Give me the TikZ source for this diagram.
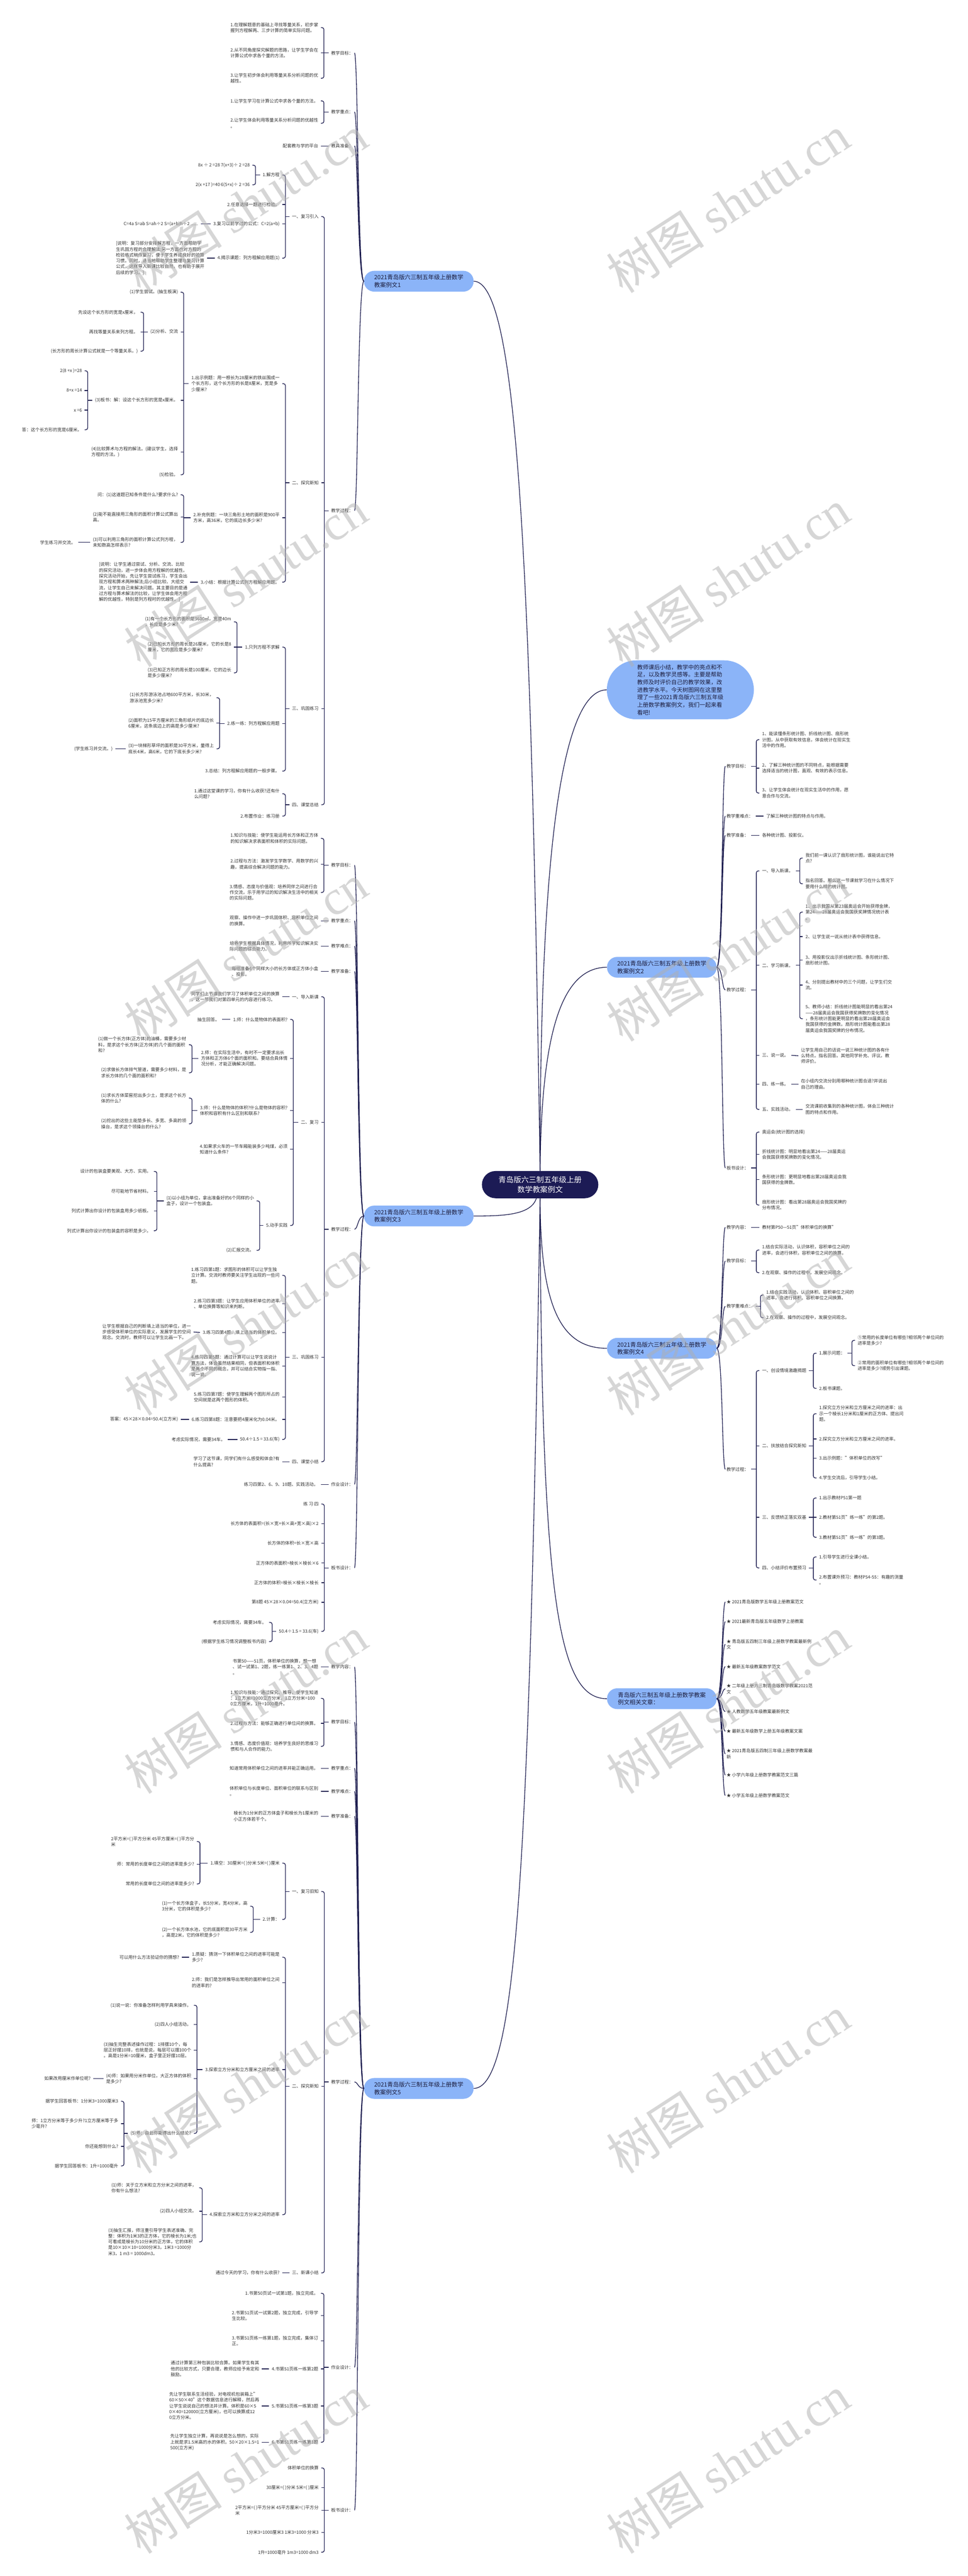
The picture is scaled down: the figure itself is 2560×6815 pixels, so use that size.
\documentclass[tikz,border=0pt]{standalone}
\usepackage{fontspec}
\setmainfont{Noto Sans CJK SC}
\newfontfamily\wmlat{Liberation Serif}
\usetikzlibrary{calc}
\definecolor{linec}{RGB}{30,30,80}
\definecolor{txtc}{RGB}{50,50,50}
\definecolor{brc}{RGB}{139,180,248}
\definecolor{brt}{RGB}{28,28,60}
\definecolor{cenc}{RGB}{28,27,85}
\definecolor{wmc}{RGB}{175,175,175}
\tikzset{
  tx/.style={font=\fontsize{11.7}{15.4}\selectfont, text=txtc, inner sep=0pt, align=left},
  L/.style={tx, anchor=east},
  R/.style={tx, anchor=west},
  conn/.style={draw=linec, line width=1.8pt},
  br/.style={fill=brc, text=brt, rounded corners=27pt, minimum width=290pt, minimum height=55pt, inner sep=0pt, align=left, font=\fontsize{15.5}{20}\selectfont},
  intro/.style={fill=brc, text=brt, rounded corners=78pt, minimum width=389pt, minimum height=156pt, inner sep=0pt, align=left, font=\fontsize{15}{20}\selectfont},
  cen/.style={fill=cenc, text=white, rounded corners=36pt, minimum width=308pt, minimum height=72pt, inner sep=0pt, align=center, font=\fontsize{20}{27}\selectfont},
  wm/.style={text=wmc, text opacity=0.5, rotate=33, inner sep=0pt, font=\fontsize{130}{130}\selectfont},
}
% left bracket: parent, first child, last child
\newcommand\lbk[3]{%
  \draw[conn, rounded corners=5pt] ($(#2.east)+(7,0)$) -- ($(#2.east)+(15,0)$) |- ($(#3.east)+(7,0)$);
  \coordinate (tmpS) at ($(#2.east)+(15,0)$);
  \draw[conn] (tmpS |- #1.west) -- ($(#1.west)+(-7,0)$);}
\newcommand\ltk[1]{\draw[conn] ($(#1.east)+(7,0)$) -- ++(8,0);}
\newcommand\lsg[2]{\draw[conn] ($(#2.east)+(7,0)$) -- ($(#1.west)+(-7,0)$);}
% right bracket
\newcommand\rbk[3]{%
  \draw[conn, rounded corners=5pt] ($(#2.west)+(-7,0)$) -- ($(#2.west)+(-15,0)$) |- ($(#3.west)+(-7,0)$);
  \coordinate (tmpS) at ($(#2.west)+(-15,0)$);
  \draw[conn] (tmpS |- #1.east) -- ($(#1.east)+(7,0)$);}
\newcommand\rtk[1]{\draw[conn] ($(#1.west)+(-7,0)$) -- ++(-8,0);}
\newcommand\rsg[2]{\draw[conn] ($(#1.east)+(7,0)$) -- ($(#2.west)+(-7,0)$);}
% branch curves
\newcommand\lcv[2]{\draw[conn] (#1.west) .. controls ($(#1.west)+(-16,0)$) and ($(#2.east)+(12,0)$) .. ($(#2.east)+(3,0)$);}
\newcommand\rcv[2]{\draw[conn] (#1.east) .. controls ($(#1.east)+(16,0)$) and ($(#2.west)+(-12,0)$) .. ($(#2.west)+(-3,0)$);}
\begin{document}
\begin{tikzpicture}[x=1pt,y=-1pt]
\fill[white] (0,0) rectangle (2560,6815);
\useasboundingbox (0,0) rectangle (2560,6815);

% ---------------- main nodes
\node[cen] (c) at (1429,3134) {青岛版六三制五年级上册\\数学教案例文};
\node[br] (b1) at (1108,744) {2021青岛版六三制五年级上册数学\\教案例文1};
\node[br] (b3) at (1108,3217) {2021青岛版六三制五年级上册数学\\教案例文3};
\node[br] (b5) at (1108,5525) {2021青岛版六三制五年级上册数学\\教案例文5};
\node[intro] (in) at (1800,1825) {教师课后小结，教学中的亮点和不\\足，以及教学灵感等。主要是帮助\\教师及时评价自己的教学效果，改\\进教学水平。今天树图网在这里整\\理了一些2021青岛版六三制五年级\\上册数学教案例文，我们一起来看\\看吧!};
\node[br] (b2) at (1751,2559) {2021青岛版六三制五年级上册数学\\教案例文2};
\node[br] (b4) at (1751,3567) {2021青岛版六三制五年级上册数学\\教案例文4};
\node[br] (rel) at (1751,4494) {青岛版六三制五年级上册数学教案\\例文相关文章：};

\draw[conn] (c.north) .. controls (1405,1500) and (1370,744) .. (b1.east);
\draw[conn] (c.north) .. controls (1428,2300) and (1480,1825) .. (in.west);
\draw[conn] (c.north) .. controls (1432,2750) and (1480,2559) .. (b2.west);
\draw[conn] ($(c.south)+(-10,0)$) .. controls (1405,3215) and (1330,3217) .. (b3.east);
\draw[conn] (c.south) .. controls (1430,3450) and (1480,3567) .. (b4.west);
\draw[conn] (c.south) .. controls (1432,4250) and (1480,4494) .. (rel.west);
\draw[conn] (c.south) .. controls (1400,4900) and (1370,5525) .. (b5.east);

% ================= BRANCH 1
\node[R] (p1a) at (876,140) {教学目标：};
\node[R] (p1b) at (876,296) {教学重点：};
\node[R] (p1c) at (876,386) {教具准备：};
\node[R] (p1d) at (876,1351) {教学过程：};
\lcv{b1}{p1a}\lcv{b1}{p1b}\lcv{b1}{p1c}\lcv{b1}{p1d}

\node[L] (a1) at (842,73) {1.在理解题意的基础上寻找等量关系，初步掌\\握列方程解两、三步计算的简单实际问题。};
\node[L] (a2) at (842,140) {2.从不同角度探究解题的思路，让学生学会在\\计算公式中求各个量的方法。};
\node[L] (a3) at (842,207) {3.让学生初步体会利用等量关系分析问题的优\\越性。};
\lbk{p1a}{a1}{a3}\ltk{a2}
\node[L] (a4) at (842,267) {1.让学生学习在计算公式中求各个量的方法。};
\node[L] (a5) at (842,326) {2.让学生体会利用等量关系分析问题的优越性\\。};
\lbk{p1b}{a4}{a5}
\node[L] (a6) at (842,386) {配套教与学的平台};
\lsg{p1c}{a6}

\node[L] (s1) at (843,573) {一、复习引入};
\node[L] (s2) at (843,1277) {二、探究新知};
\node[L] (s3) at (843,1875) {三、巩固练习};
\node[L] (s4) at (843,2129) {四、课堂总结};
\lbk{p1d}{s1}{s4}\ltk{s2}\ltk{s3}

\node[L] (s1a) at (740,463) {1.解方程};
\node[L] (s1b) at (740,541) {2.任意选择一题进行检验。};
\node[L] (s1c) at (740,592) {3.复习以前学过的公式：C=2(a+b)};
\node[L] (s1d) at (740,683) {4.揭示课题：列方程解应用题(1)};
\lbk{s1}{s1a}{s1d}\ltk{s1b}\ltk{s1c}
\node[L] (s1a1) at (661,437) {8x ÷ 2 =28 7(x+3)÷ 2 =28};
\node[L] (s1a2) at (661,489) {2(x +17 )=40 6(5+x)÷ 2 =36};
\lbk{s1a}{s1a1}{s1a2}
\node[L] (s1c1) at (524,592) {C=4a S=ab S=ah÷2 S=(a+b)h÷2 ......};
\lsg{s1c}{s1c1}
\node[L] (s1d1) at (541,683) {[说明：复习部分安排解方程，一方面帮助学\\生巩固方程的合理解法;另一方面也对方程的\\检验格式稍作复习，便于学生养成良好的验算\\习惯。同时，适当地帮助学生整理与复习计算\\公式，这样导入新课比较自然，也有助于展开\\后续的学习。]};
\lsg{s1d}{s1d1}

\node[L] (s2a) at (740,1015) {1.出示例题：用一根长为28厘米的铁丝围成一\\个长方形，这个长方形的长是8厘米，宽是多\\少厘米?};
\node[L] (s2b) at (740,1370) {2.补充例题：一块三角形土地的面积是900平\\方米，高36米，它的底边长多少米?};
\node[L] (s2c) at (740,1540) {3.小结：根据计算公式列方程解应用题。};
\lbk{s2}{s2a}{s2c}\ltk{s2b}
\node[L] (e1) at (471,773) {(1)学生尝试。(抽生板演)};
\node[L] (e2) at (471,878) {(2)分析、交流};
\node[L] (e3) at (471,1059) {(3)板书：解：设这个长方形的宽是x厘米。};
\node[L] (e4) at (471,1196) {(4)比较算术与方程的解法。(建议学生，选择\\方程的方法。)};
\node[L] (e5) at (471,1256) {(5)检验。};
\lbk{s2a}{e1}{e5}\ltk{e2}\ltk{e3}\ltk{e4}
\node[L] (e21) at (365,826) {先设这个长方形的宽是x厘米，};
\node[L] (e22) at (365,878) {再找等量关系来列方程。};
\node[L] (e23) at (365,929) {(长方形的周长计算公式就是一个等量关系。)};
\lbk{e2}{e21}{e23}\ltk{e22}
\node[L] (e31) at (217,981) {2(8 +x )=28};
\node[L] (e32) at (217,1033) {8+x =14};
\node[L] (e33) at (217,1085) {x =6};
\node[L] (e34) at (217,1137) {答：这个长方形的宽是6厘米。};
\lbk{e3}{e31}{e34}\ltk{e32}\ltk{e33}
\node[L] (f1) at (471,1309) {问：(1)这道题已知条件是什么?要求什么?};
\node[L] (f2) at (471,1368) {(2)能不能直接用三角形的面积计算公式算出\\高。};
\node[L] (f3) at (471,1435) {(3)可以利用三角形的面积计算公式列方程，\\未知数高怎样表示?};
\lbk{s2b}{f1}{f3}\ltk{f2}
\node[L] (f31) at (200,1435) {学生练习并交流。};
\lsg{f3}{f31}
\node[L] (g1) at (496,1540) {[说明：让学生通过尝试、分析、交流、比较\\的探究活动，进一步体会用方程解的优越性。\\探究活动开始，先让学生尝试练习，学生会出\\现方程和算术两种解法;后小组比较、大组交\\流，让学生自己来解决问题。其主要目的是通\\过方程与算术解法的比较，让学生体会用方程\\解的优越性，特别是列方程时的优越性。]};
\lsg{s2c}{g1}

\node[L] (s3a) at (740,1712) {1.只列方程不求解};
\node[L] (s3b) at (740,1914) {2.练一练：列方程解应用题};
\node[L] (s3c) at (740,2040) {3.总结：列方程解应用题的一般步骤。};
\lbk{s3}{s3a}{s3c}\ltk{s3b}
\node[L] (h1) at (612,1645) {(1)有一个长方形的面积是3600㎡，宽是40m\\，长应是多少米?};
\node[L] (h2) at (612,1712) {(2)已知长方形的周长是26厘米，它的长是8\\厘米，它的宽应是多少厘米?};
\node[L] (h3) at (612,1780) {(3)已知正方形的周长是100厘米，它的边长\\是多少厘米?};
\lbk{s3a}{h1}{h3}\ltk{h2}
\node[L] (i1) at (566,1846) {(1)长方形游泳池占地600平方米，长30米，\\游泳池宽多少米?};
\node[L] (i2) at (566,1913) {(2)面积为15平方厘米的三角形纸片的底边长\\6厘米，这条底边上的高是多少厘米?};
\node[L] (i3) at (566,1981) {(3)一块梯形草坪的面积是30平方米，量得上\\底长4米，高6米，它的下底长多少米?};
\lbk{s3b}{i1}{i3}\ltk{i2}
\node[L] (i31) at (298,1981) {(学生练习并交流。)};
\lsg{i3}{i31}
\node[L] (j1) at (740,2100) {1.通过这堂课的学习，你有什么收获?还有什\\么问题?};
\node[L] (j2) at (740,2159) {2.布置作业：练习册};
\lbk{s4}{j1}{j2}

% ================= BRANCH 3
\node[R] (p3a) at (876,2289) {教学目标：};
\node[R] (p3b) at (876,2436) {教学重点：};
\node[R] (p3c) at (876,2503) {教学难点：};
\node[R] (p3d) at (876,2570) {教学准备：};
\node[R] (p3e) at (876,3252) {教学过程：};
\node[R] (p3f) at (876,3927) {作业设计：};
\node[R] (p3g) at (876,4148) {板书设计：};
\lcv{b3}{p3a}\lcv{b3}{p3b}\lcv{b3}{p3c}\lcv{b3}{p3d}\lcv{b3}{p3e}\lcv{b3}{p3f}\lcv{b3}{p3g}

\node[L] (k1) at (842,2218) {1.知识与技能：使学生能运用长方体和正方体\\的知识解决求表面积和体积的实际问题。};
\node[L] (k2) at (842,2286) {2.过程与方法：激发学生学数学、用数学的兴\\趣，提高综合解决问题的能力。};
\node[L] (k3) at (842,2361) {3.情感、态度与价值观：培养同伴之间进行合\\作交流，乐于用学过的知识解决生活中的相关\\的实际问题。};
\lbk{p3a}{k1}{k3}\ltk{k2}
\node[L] (k4) at (842,2436) {观察、操作中进一步巩固体积、容积单位之间\\的换算。};
\lsg{p3b}{k4}
\node[L] (k5) at (842,2503) {培养学生根据具体情况，利用所学知识解决实\\际问题的综合能力。};
\lsg{p3c}{k5}
\node[L] (k6) at (842,2570) {每组准备6个同样大小的长方体或正方体小盒\\、投影。};
\lsg{p3d}{k6}

\node[L] (u1) at (843,2637) {一、导入新课};
\node[L] (u2) at (843,2969) {二、复习};
\node[L] (u3) at (843,3591) {三、巩固练习};
\node[L] (u4) at (843,3867) {四、课堂小结};
\lbk{p3e}{u1}{u4}\ltk{u2}\ltk{u3}
\node[L] (u11) at (740,2637) {同学们上节课我们学习了体积单位之间的换算\\，这一节我们对第四单元的内容进行练习。};
\lsg{u1}{u11}

\node[L] (v1) at (761,2697) {1.师：什么是物体的表面积?};
\node[L] (v2) at (761,2800) {2.师：在实际生活中，有时不一定要求出长\\方体和正方体6个面的面积和。要结合具体情\\况分析，才能正确解决问题。};
\node[L] (v3) at (761,2938) {3.师：什么是物体的体积?什么是物体的容积?\\体积和容积有什么区别和联系?};
\node[L] (v4) at (761,3040) {4.如果求火车的一节车厢能装多少吨煤，必须\\知道什么条件?};
\node[L] (v5) at (761,3242) {5.动手实践};
\lbk{u2}{v1}{v5}\ltk{v2}\ltk{v3}\ltk{v4}
\node[L] (v11) at (581,2697) {抽生回答。};
\lsg{v1}{v11}
\node[L] (v21) at (493,2764) {(1)做一个长方体(正方体)的油桶，需要多少材\\料，是求这个长方体(正方体)的几个面的面积\\和?};
\node[L] (v22) at (493,2838) {(2)求做长方体排气管道，需要多少材料，是\\求长方体的几个面的面积和?};
\lbk{v2}{v21}{v22}
\node[L] (v31) at (493,2905) {(1)求长方体菜窖挖出多少土，是求这个长方\\体的什么?};
\node[L] (v32) at (493,2973) {(2)挖出的这些土能垫多长、多宽、多高的领\\操台，是求这个领操台的什么?};
\lbk{v3}{v31}{v32}
\node[L] (v51) at (672,3177) {(1)以小组为单位，拿出准备好的6个同样的小\\盒子，设计一个包装盒。};
\node[L] (v52) at (672,3308) {(2)汇报交流。};
\lbk{v5}{v51}{v52}
\node[L] (w1) at (400,3099) {设计的包装盒要美观、大方、实用。};
\node[L] (w2) at (400,3152) {尽可能地节省材料。};
\node[L] (w3) at (400,3204) {列式计算出你设计的包装盒用多少纸板。};
\node[L] (w4) at (400,3256) {列式计算出你设计的包装盒的容积是多少。};
\lbk{v51}{w1}{w4}\ltk{w2}\ltk{w3}

\node[L] (x1) at (740,3374) {1.练习四第1题：求图形的体积可以让学生独\\立计算。交流时教师要关注学生出现的一些问\\题。};
\node[L] (x2) at (740,3449) {2.练习四第3题：让学生应用体积单位的进率\\、单位换算等知识来判断。};
\node[L] (x3) at (740,3525) {3.练习四第4题，填上适当的体积单位。};
\node[L] (x4) at (740,3614) {4.练习四第5题：通过计算可以让学生说说计\\算方法，体会虽然结果相同，但表面积和体积\\是两个不同的概念，并可以结合实物指一指、\\说一说。};
\node[L] (x5) at (740,3696) {5.练习四第7题：使学生理解两个图形所占的\\空间就是这两个图形的体积。};
\node[L] (x6) at (740,3755) {6.练习四第8题：注意要把4厘米化为0.04米。};
\node[L] (x7) at (740,3808) {50.4÷1.5 = 33.6(车)};
\lbk{u3}{x1}{x7}\ltk{x2}\ltk{x3}\ltk{x4}\ltk{x5}\ltk{x6}
\node[L] (x31) at (505,3524) {让学生根据自己的判断填上适当的单位，进一\\步感受体积单位的实际意义，发展学生的空间\\观念。交流时，教师可以让学生比画一下。};
\lsg{x3}{x31}
\node[L] (x61) at (471,3755) {答案：45×28×0.04=50.4(立方米)};
\lsg{x6}{x61}
\node[L] (x71) at (596,3808) {考虑实际情况，需要34车。};
\lsg{x7}{x71}
\node[L] (y1) at (740,3867) {学习了这节课，同学们有什么感受和体会?有\\什么提高?};
\lsg{u4}{y1}
\node[L] (y2) at (842,3927) {练习四第2、6、9、10题、实践活动。};
\lsg{p3f}{y2}
\node[L] (z1) at (843,3979) {练 习 四};
\node[L] (z2) at (843,4031) {长方体的表面积=(长×宽+长×高+宽×高)×2};
\node[L] (z3) at (843,4083) {长方体的体积=长×宽×高};
\node[L] (z4) at (843,4135) {正方体的表面积=棱长×棱长×6};
\node[L] (z5) at (843,4187) {正方体的体积=棱长×棱长×棱长};
\node[L] (z6) at (843,4239) {第8题 45×28×0.04=50.4(立方米)};
\node[L] (z7) at (843,4316) {50.4÷1.5 = 33.6(车)};
\lbk{p3g}{z1}{z7}\ltk{z2}\ltk{z3}\ltk{z4}\ltk{z5}\ltk{z6}
\node[L] (z71) at (705,4292) {考虑实际情况，需要34车。};
\node[L] (z72) at (705,4343) {(根据学生练习情况调整板书内容)};
\lbk{z7}{z71}{z72}

% ================= BRANCH 5
\node[R] (p5a) at (876,4410) {教学内容：};
\node[R] (p5b) at (876,4556) {教学目标：};
\node[R] (p5c) at (876,4678) {教学重点：};
\node[R] (p5d) at (876,4739) {教学难点：};
\node[R] (p5e) at (876,4805) {教学准备：};
\node[R] (p5f) at (876,5508) {教学过程：};
\node[R] (p5g) at (876,6263) {作业设计：};
\node[R] (p5h) at (876,6641) {板书设计：};
\lcv{b5}{p5a}\lcv{b5}{p5b}\lcv{b5}{p5c}\lcv{b5}{p5d}\lcv{b5}{p5e}\lcv{b5}{p5f}\lcv{b5}{p5g}\lcv{b5}{p5h}

\node[L] (m1) at (842,4410) {书第50——51页，体积单位的换算，想一想\\、试一试第1、2题，练一练第1、2、3、4题\\。};
\lsg{p5a}{m1}
\node[L] (m2) at (842,4493) {1.知识与技能：通过探究、推导，使学生知道\\：1立方米=1000立方分米，1立方分米=100\\0立方厘米，1升=1000毫升。};
\node[L] (m3) at (842,4559) {2.过程与方法：能够正确进行单位间的换算。};
\node[L] (m4) at (842,4620) {3.情感、态度价值观：培养学生良好的思维习\\惯和与人合作的能力。};
\lbk{p5b}{m2}{m4}\ltk{m3}
\node[L] (m5) at (842,4678) {知道常用体积单位之间的进率并能正确运用。};
\lsg{p5c}{m5}
\node[L] (m6) at (842,4739) {体积单位与长度单位、面积单位的联系与区别\\。};
\lsg{p5d}{m6}
\node[L] (m7) at (842,4805) {棱长为1分米的正方体盒子和棱长为1厘米的\\小正方体若干个。};
\lsg{p5e}{m7}

\node[L] (n1) at (843,5004) {一、复习旧知};
\node[L] (n2) at (843,5519) {二、探究新知};
\node[L] (n3) at (843,6013) {三、新课小结};
\lbk{p5f}{n1}{n3}\ltk{n2}
\node[L] (n11) at (740,4929) {1.填空：30厘米=( )分米 5米=( )厘米};
\node[L] (n12) at (740,5078) {2.计算：};
\lbk{n1}{n11}{n12}
\node[L] (o1) at (514,4872) {2平方米=( )平方分米 45平方厘米=( )平方分\\米};
\node[L] (o2) at (514,4932) {师：常用的长度单位之间的进率是多少?};
\node[L] (o3) at (514,4984) {常用的长度单位之间的进率是多少?};
\lbk{n11}{o1}{o3}\ltk{o2}
\node[L] (o4) at (655,5043) {(1)一个长方体盒子，长5分米，宽4分米，高\\3分米，它的体积是多少?};
\node[L] (o5) at (655,5112) {(2)一个长方体水池，它的底面积是30平方米\\，高是2米，它的体积是多少?};
\lbk{n12}{o4}{o5}

\node[L] (q1) at (740,5178) {1.质疑：猜测一下体积单位之间的进率可能是\\多少?};
\node[L] (q2) at (740,5245) {2.师：我们是怎样推导出常用的面积单位之间\\的进率的?};
\node[L] (q3) at (740,5475) {3.探索立方分米和立方厘米之间的进率};
\node[L] (q4) at (740,5859) {4.探索立方米和立方分米之间的进率};
\lbk{n2}{q1}{q4}\ltk{q2}\ltk{q3}
\node[L] (q11) at (474,5178) {可以用什么方法验证你的猜想?};
\lsg{q1}{q11}
\node[L] (r1) at (506,5305) {(1)说一说：你准备怎样利用学具来操作。};
\node[L] (r2) at (506,5356) {(2)四人小组活动。};
\node[L] (r3) at (506,5424) {(3)抽生完整表述操作过程：1排摆10个，每\\层正好摆10排，也就是说，每层可以摆100个\\。高是1分米=10厘米，盒子里正好摆10层。};
\node[L] (r4) at (506,5499) {(4)师：如果用分米作单位，大正方体的体积\\是多少?};
\node[L] (r5) at (506,5644) {(5)师：由此你能得出什么结论?};
\lbk{q3}{r1}{r5}\ltk{r2}\ltk{r3}\ltk{r4}
\node[L] (r41) at (240,5499) {如果改用厘米作单位呢?};
\lsg{r4}{r41}
\node[L] (r51) at (313,5559) {据学生回答板书：1分米3=1000厘米3};
\node[L] (r52) at (313,5618) {师：1立方分米等于多少升?1立方厘米等于多\\少毫升?};
\node[L] (r53) at (313,5678) {你还能想到什么?};
\node[L] (r54) at (313,5730) {据学生回答板书：1升=1000毫升};
\lbk{r5}{r51}{r54}\ltk{r52}\ltk{r53}
\node[L] (r61) at (520,5788) {(1)师：关于立方米和立方分米之间的进率，\\你有什么想法?};
\node[L] (r62) at (520,5850) {(2)四人小组交流。};
\node[L] (r63) at (520,5931) {(3)抽生汇报，师注重引导学生表述准确、完\\整：体积为1米3的正方体，它的棱长为1米;也\\可看成是棱长为10分米的正方体，它的体积\\是10×10×10=1000分米3，1米3 =1000分\\米3，1 m3 = 1000dm3。};
\lbk{q4}{r61}{r63}\ltk{r62}
\node[L] (n31) at (740,6013) {通过今天的学习，你有什么收获?};
\lsg{n3}{n31}

\node[L] (aa1) at (842,6067) {1.书第50页试一试第1题，独立完成。};
\node[L] (aa2) at (842,6126) {2.书第51页试一试第2题，独立完成，引导学\\生比较。};
\node[L] (aa3) at (842,6193) {3.书第51页练一练第1题，独立完成，集体订\\正。};
\node[L] (aa4) at (842,6267) {4.书第51页练一练第2题};
\node[L] (aa5) at (842,6365) {5.书第51页练一练第3题};
\node[L] (aa6) at (842,6461) {6.书第51页练一练第3题};
\lbk{p5g}{aa1}{aa6}\ltk{aa2}\ltk{aa3}\ltk{aa4}\ltk{aa5}
\node[L] (aa41) at (686,6267) {通过计算第三种包装比较合算。如果学生有其\\他的比较方式，只要合理，教师应给予肯定和\\鼓励。};
\lsg{aa4}{aa41}
\node[L] (aa51) at (686,6365) {先让学生联系生活经验，对电视机包装箱上"\\60×50×40"这个数据信息进行解释，然后再\\让学生说说自己的想法并计算。体积是60×5\\0×40=120000(立方厘米)，也可以换算成12\\0立方分米。};
\lsg{aa5}{aa51}
\node[L] (aa61) at (686,6461) {先让学生独立计算，再说说是怎么想的，实际\\上就是求1.5米高的水的体积。50×20×1.5=1\\500(立方米)};
\lsg{aa6}{aa61}
\node[L] (bb1) at (843,6529) {体积单位的换算};
\node[L] (bb2) at (843,6581) {30厘米=( )分米 5米=( )厘米};
\node[L] (bb3) at (843,6641) {2平方米=( )平方分米 45平方厘米=( )平方分\\米};
\node[L] (bb4) at (843,6700) {1分米3=1000厘米3 1米3=1000 分米3};
\node[L] (bb5) at (843,6752) {1升=1000毫升 1m3=1000 dm3};
\lbk{p5h}{bb1}{bb5}\ltk{bb2}\ltk{bb3}\ltk{bb4}

% ================= BRANCH 2 (right)
\node[R] (ta) at (1922,2027) {教学目标：};
\node[R] (tb) at (1922,2159) {教学重难点：};
\node[R] (tc) at (1922,2210) {教学准备：};
\node[R] (td) at (1922,2619) {教学过程：};
\node[R] (te) at (1922,3090) {板书设计：};
\rcv{b2}{ta}\rcv{b2}{tb}\rcv{b2}{tc}\rcv{b2}{td}\rcv{b2}{te}
\node[R] (ta1) at (2016,1957) {1、能读懂条形统计图、折线统计图、扇形统\\计图，从中获取有效信息，体会统计在现实生\\活中的作用。};
\node[R] (ta2) at (2016,2032) {2、了解三种统计图的不同特点，能根据需要\\选择适当的统计图，直观、有效的表示信息。};
\node[R] (ta3) at (2016,2098) {3、让学生体会统计在现实生活中的作用，愿\\意合作与交流。};
\rbk{ta}{ta1}{ta3}\rtk{ta2}
\node[R] (tb1) at (2027,2159) {了解三种统计图的特点与作用。};
\rsg{tb}{tb1}
\node[R] (tc1) at (2016,2210) {各种统计图、投影仪。};
\rsg{tc}{tc1}
\node[R] (td1) at (2016,2304) {一、导入新课。};
\node[R] (td2) at (2016,2554) {二、学习新课。};
\node[R] (td3) at (2016,2792) {三、说一说。};
\node[R] (td4) at (2016,2868) {四、练一练。};
\node[R] (td5) at (2016,2935) {五、实践活动。};
\rbk{td}{td1}{td5}\rtk{td2}\rtk{td3}\rtk{td4}
\node[R] (td11) at (2131,2270) {我们前一课认识了扇形统计图，谁能说出它特\\点?};
\node[R] (td12) at (2131,2338) {指名回答。那么这一节课就学习在什么情况下\\要用什么样的统计图。};
\rbk{td1}{td11}{td12}
\node[R] (td21) at (2131,2413) {1、出示我国从第23届奥运会开始获得金牌，\\第24——28届奥运会我国获奖牌情况统计表\\。};
\node[R] (td22) at (2131,2478) {2、让学生说一说从统计表中获得信息。};
\node[R] (td23) at (2131,2540) {3、用投影仪出示折线统计图、条形统计图、\\扇形统计图。};
\node[R] (td24) at (2131,2606) {4、分别提出教材中的三个问题，让学生们交\\流。};
\node[R] (td25) at (2131,2695) {5、教师小结：折线统计图能明显的看出第24\\——28届奥运会我国获得奖牌数的变化情况\\，条形统计图能更明显的看出第28届奥运会\\我国获得的金牌数。扇形统计图能看出第28\\届奥运会我国奖牌的分布情况。};
\rbk{td2}{td21}{td25}\rtk{td22}\rtk{td23}\rtk{td24}
\node[R] (td31) at (2119,2793) {让学生用自己的话说一说三种统计图的各有什\\么特点。指名回答。其他同学补充、评议。教\\师评价。};
\rsg{td3}{td31}
\node[R] (td41) at (2119,2868) {在小组内交流分别用哪种统计图合适?并说出\\自己的理由。};
\rsg{td4}{td41}
\node[R] (td51) at (2131,2935) {交流课前收集到的各种统计图，体会三种统计\\图的特点和作用。};
\rsg{td5}{td51}
\node[R] (te1) at (2016,2995) {奥运会(统计图的选择)};
\node[R] (te2) at (2016,3054) {折线统计图：明显地看出第24——28届奥运\\会我国获得奖牌数的变化情况。};
\node[R] (te3) at (2016,3121) {条形统计图：更明显地看出第28届奥运会我\\国获得的金牌数。};
\node[R] (te4) at (2016,3188) {扇形统计图：看出第28届奥运会我国奖牌的\\分布情况。};
\rbk{te}{te1}{te4}\rtk{te2}\rtk{te3}

% ================= BRANCH 4 (right)
\node[R] (ua) at (1922,3247) {教学内容：};
\node[R] (ub) at (1922,3336) {教学目标：};
\node[R] (uc) at (1922,3456) {教学重难点：};
\node[R] (ud) at (1922,3887) {教学过程：};
\rcv{b4}{ua}\rcv{b4}{ub}\rcv{b4}{uc}\rcv{b4}{ud}
\node[R] (ua1) at (2016,3247) {教材第P50—51页"体积单位的换算"};
\rsg{ua}{ua1}
\node[R] (ub1) at (2016,3307) {1.结合实际活动，认识体积，容积单位之间的\\进率，会进行体积，容积单位之间的换算。};
\node[R] (ub2) at (2016,3367) {2.在观察、操作的过程中，发展空间观念。};
\rbk{ub}{ub1}{ub2}
\node[R] (uc1) at (2027,3426) {1.结合实践活动，认识体积、容积单位之间的\\进率，会进行体积、容积单位之间换算。};
\node[R] (uc2) at (2027,3486) {2.在观察、操作的过程中，发展空间观念。};
\rbk{uc}{uc1}{uc2}
\node[R] (ud1) at (2016,3626) {一、创设情境激趣揭题};
\node[R] (ud2) at (2016,3825) {二、扶放结合探究新知};
\node[R] (ud3) at (2016,4014) {三、反馈矫正落实双基};
\node[R] (ud4) at (2016,4148) {四、小结评价布置预习};
\rbk{ud}{ud1}{ud4}\rtk{ud2}\rtk{ud3}
\node[R] (ud11) at (2167,3580) {1.展示问题：};
\node[R] (ud12) at (2167,3673) {2.板书课题。};
\rbk{ud1}{ud11}{ud12}
\node[R] (ud111) at (2269,3546) {①常用的长度单位有哪些?相邻两个单位间的\\进率是多少?};
\node[R] (ud112) at (2269,3613) {②常用的面积单位有哪些?相邻两个单位间的\\进率是多少?顺势引出课题。};
\rbk{ud11}{ud111}{ud112}
\node[R] (ud21) at (2167,3740) {1.探究立方分米和立方厘米之间的进率：出\\示一个棱长1分米和1厘米的正方体、提出问\\题。};
\node[R] (ud22) at (2167,3807) {2.探究立方分米和立方厘米之间的进率。};
\node[R] (ud23) at (2167,3858) {3.出示例题："体积单位的改写"};
\node[R] (ud24) at (2167,3910) {4.学生交流后，引导学生小结。};
\rbk{ud2}{ud21}{ud24}\rtk{ud22}\rtk{ud23}
\node[R] (ud31) at (2167,3963) {1.出示教材P51第一题};
\node[R] (ud32) at (2167,4014) {2.教材第51页"练一练"的第2题。};
\node[R] (ud33) at (2167,4067) {3.教材第51页"练一练"的第3题。};
\rbk{ud3}{ud31}{ud33}\rtk{ud32}
\node[R] (ud41) at (2167,4119) {1.引导学生进行全课小结。};
\node[R] (ud42) at (2167,4180) {2.布置课外预习：教材P54-55：有趣的测量\\。};
\rbk{ud4}{ud41}{ud42}

% ================= RELATED
\node[R] (rl1) at (1922,4238) {★ 2021青岛版数学五年级上册教案范文};
\node[R] (rl2) at (1922,4290) {★ 2021最新青岛版五年级数学上册教案};
\node[R] (rl3) at (1922,4350) {★ 青岛版五四制三年级上册数学教案最新例\\文};
\node[R] (rl4) at (1922,4409) {★ 最新五年级教案数学范文};
\node[R] (rl5) at (1922,4468) {★ 二年级上册六三制青岛版数学教案2021范\\文};
\node[R] (rl6) at (1922,4528) {★ 人教数学五年级教案最新例文};
\node[R] (rl7) at (1922,4580) {★ 最新五年级数学上册五年级教案文案};
\node[R] (rl8) at (1922,4640) {★ 2021青岛版五四制三年级上册数学教案最\\新};
\node[R] (rl9) at (1922,4696) {★ 小学六年级上册数学教案范文三篇};
\node[R] (rl10) at (1922,4750) {★ 小学五年级上册数学教案范文};
\foreach \k in {1,...,10} {\rcv{rel}{rl\k}}

% ================= watermarks
\foreach \yy in {540,1530,2520,3510,4510,5515,6520} {
  \node[wm] at (651,\yy) {树图 {\wmlat shutu.cn}};
  \node[wm] at (1926,\yy) {树图 {\wmlat shutu.cn}};
}
\end{tikzpicture}
\end{document}
